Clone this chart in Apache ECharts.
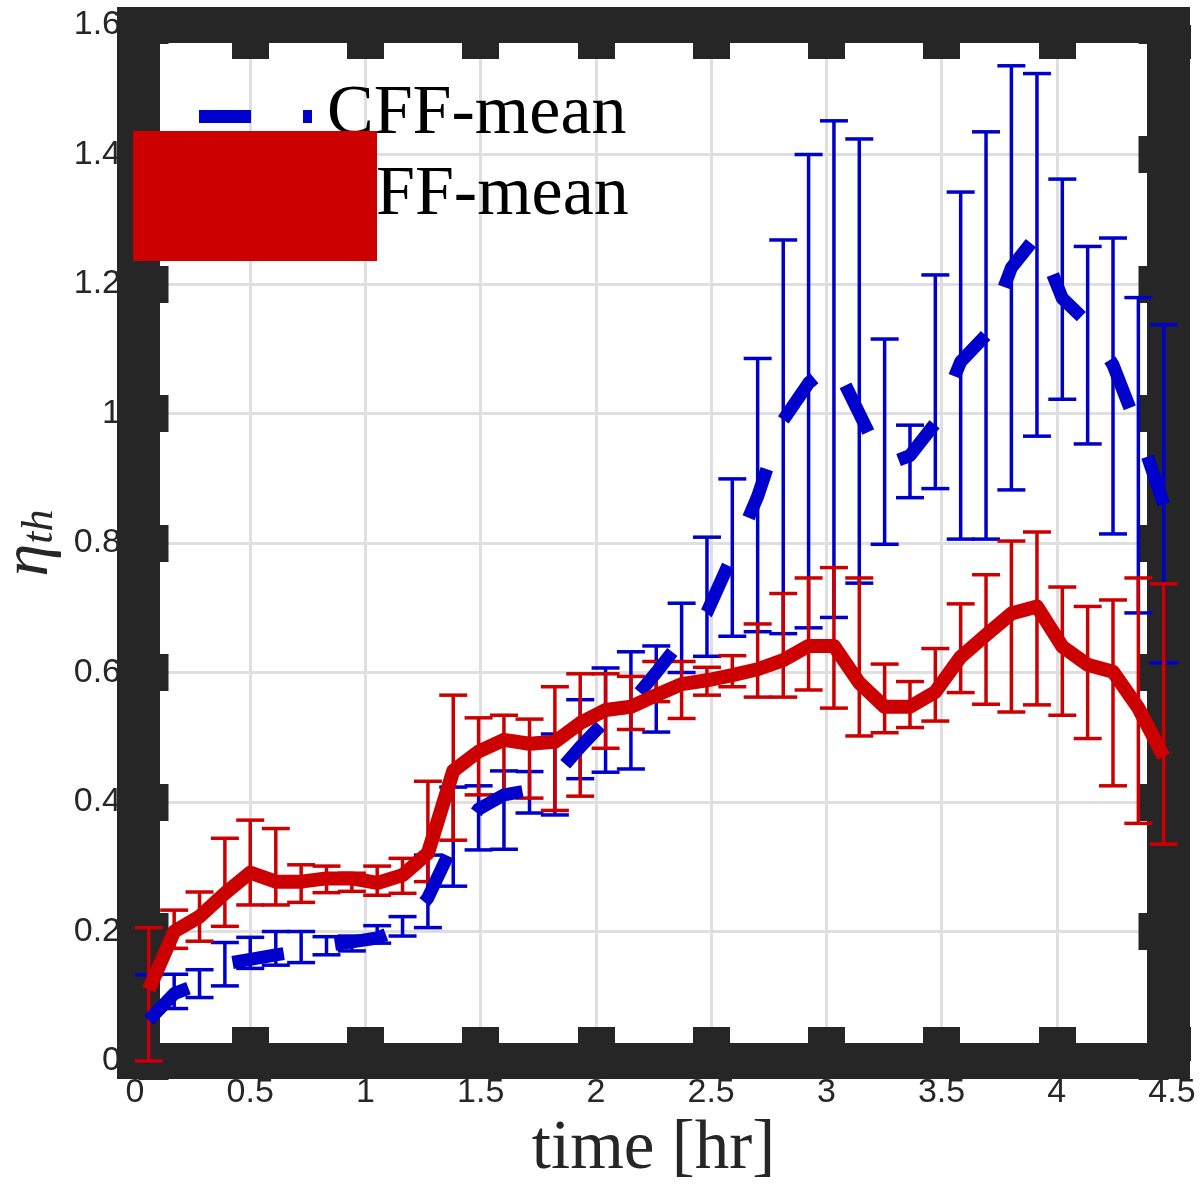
<!DOCTYPE html>
<html>
<head>
<meta charset="utf-8">
<script src="https://cdn.jsdelivr.net/npm/echarts@6/dist/echarts.min.js"></script>
<style>
  html, body { margin: 0; padding: 0; background: #ffffff; }
  #chart { width: 1202px; height: 1185px; }
</style>
</head>
<body>
<div id="chart"></div>
<script>
// Sample times [hr]
const times = [0.060, 0.170, 0.280, 0.390, 0.500, 0.611, 0.721, 0.831, 0.941, 1.051,
               1.161, 1.271, 1.381, 1.491, 1.601, 1.712, 1.822, 1.932, 2.042, 2.152,
               2.262, 2.372, 2.482, 2.592, 2.702, 2.813, 2.923, 3.033, 3.143, 3.253,
               3.363, 3.473, 3.583, 3.693, 3.803, 3.914, 4.024, 4.134, 4.244, 4.354, 4.464];

// CFF: mean efficiency with lower / upper error limits
const cffMean = [0.063, 0.104, 0.119, 0.150, 0.157, 0.164, 0.170, 0.178, 0.184, 0.190,
                 0.205, 0.252, 0.335, 0.389, 0.411, 0.418, 0.440, 0.485, 0.526, 0.553,
                 0.600, 0.650, 0.693, 0.780, 0.872, 0.990, 1.047, 1.080, 1.000, 0.920,
                 0.935, 0.985, 1.080, 1.121, 1.225, 1.275, 1.178, 1.140, 1.075, 0.975, 0.860];
const cffLow  = [0.000, 0.081, 0.098, 0.116, 0.143, 0.148, 0.152, 0.164, 0.170, 0.182,
                 0.193, 0.206, 0.270, 0.326, 0.327, 0.383, 0.380, 0.436, 0.446, 0.451,
                 0.508, 0.600, 0.625, 0.656, 0.663, 0.660, 0.669, 0.685, 0.738, 0.798,
                 0.870, 0.884, 0.806, 0.806, 0.882, 0.965, 1.022, 0.953, 0.814, 0.692, 0.615];
const cffHigh = [0.133, 0.134, 0.141, 0.183, 0.191, 0.200, 0.200, 0.192, 0.193, 0.209,
                 0.223, 0.318, 0.423, 0.425, 0.448, 0.447, 0.505, 0.558, 0.607, 0.632,
                 0.641, 0.707, 0.809, 0.899, 1.085, 1.268, 1.400, 1.452, 1.424, 1.115,
                 0.982, 1.214, 1.342, 1.435, 1.537, 1.525, 1.362, 1.258, 1.271, 1.179, 1.137];

// FF: mean efficiency with lower / upper error limits
const ffMean = [0.110, 0.200, 0.223, 0.259, 0.291, 0.277, 0.277, 0.282, 0.282, 0.275,
                0.287, 0.321, 0.448, 0.478, 0.496, 0.490, 0.493, 0.522, 0.542, 0.547,
                0.565, 0.582, 0.588, 0.596, 0.605, 0.619, 0.641, 0.641, 0.584, 0.547,
                0.547, 0.570, 0.624, 0.658, 0.691, 0.702, 0.640, 0.612, 0.601, 0.545, 0.470];
const ffLow  = [0.000, 0.174, 0.185, 0.208, 0.241, 0.241, 0.245, 0.260, 0.262, 0.256,
                0.259, 0.277, 0.341, 0.411, 0.411, 0.406, 0.387, 0.409, 0.483, 0.512,
                0.555, 0.529, 0.565, 0.578, 0.562, 0.562, 0.573, 0.545, 0.502, 0.507,
                0.515, 0.525, 0.569, 0.551, 0.539, 0.550, 0.534, 0.498, 0.425, 0.367, 0.335];
const ffHigh = [0.206, 0.233, 0.261, 0.344, 0.372, 0.359, 0.303, 0.301, 0.290, 0.301,
                0.313, 0.432, 0.565, 0.530, 0.534, 0.528, 0.578, 0.598, 0.598, 0.594,
                0.617, 0.617, 0.608, 0.626, 0.675, 0.722, 0.746, 0.762, 0.746, 0.613,
                0.586, 0.637, 0.706, 0.751, 0.803, 0.817, 0.732, 0.702, 0.712, 0.746, 0.737];

// Tick labels
const xTickLabels = ['0', '0.5', '1', '1.5', '2', '2.5', '3', '3.5', '4', '4.5'];
const yTickLabels = ['0', '0.2', '0.4', '0.6', '0.8', '1', '1.2', '1.4', '1.6'];

const BLUE = '#0000cc';
const RED = '#cc0000';
const FRAME = '#262626';
const GRIDC = '#dfdfdf';

const chart = echarts.init(document.getElementById('chart'), null, { renderer: 'canvas' });

function errorBarRenderer(color) {
  return function (params, api) {
    const x = api.value(0);
    const lo = api.coord([x, api.value(1)]);
    const hi = api.coord([x, api.value(2)]);
    const hw = 14;
    const style = { stroke: color, lineWidth: 3.5, fill: null };
    return {
      type: 'group',
      children: [
        { type: 'line', shape: { x1: lo[0], y1: lo[1], x2: hi[0], y2: hi[1] }, style: style },
        { type: 'line', shape: { x1: lo[0] - hw, y1: lo[1], x2: lo[0] + hw, y2: lo[1] }, style: style },
        { type: 'line', shape: { x1: hi[0] - hw, y1: hi[1], x2: hi[0] + hw, y2: hi[1] }, style: style }
      ]
    };
  };
}

// Frame axes: thick box lines with inward ticks drawn above the labelled axes
function frameX(position) {
  return {
    type: 'value', min: 0, max: 4.5, interval: 0.5, position: position, z: 1,
    axisLine: { show: true, onZero: false, lineStyle: { color: FRAME, width: 36, cap: 'square' } },
    axisTick: { show: true, inside: true, length: 34, lineStyle: { color: FRAME, width: 37 } },
    axisLabel: { show: false }, splitLine: { show: false }
  };
}
function frameY(position) {
  return {
    type: 'value', min: 0, max: 1.6, interval: 0.2, position: position, z: 1, offset: -3.5,
    axisLine: { show: true, onZero: false, lineStyle: { color: FRAME, width: 43, cap: 'butt' } },
    axisTick: { show: true, inside: true, length: 30, lineStyle: { color: FRAME, width: 37 } },
    axisLabel: { show: false }, splitLine: { show: false }
  };
}

const option = {
  animation: false,
  backgroundColor: '#ffffff',
  grid: { left: 135, right: 30, top: 25, bottom: 124, containLabel: false, outerBoundsMode: 'none' },
  xAxis: [
    {
      type: 'value', min: 0, max: 4.5, interval: 0.5, position: 'bottom', z: 0,
      axisLine: { show: false, onZero: false },
      axisTick: { show: false },
      splitLine: { show: true, lineStyle: { color: GRIDC, width: 3 } },
      axisLabel: {
        margin: 15, fontSize: 34, fontFamily: 'Liberation Sans', color: FRAME,
        formatter: function (v) { return xTickLabels[Math.round(v / 0.5)]; }
      },
      name: 'time [hr]', nameLocation: 'middle', nameGap: 54,
      nameTextStyle: { fontFamily: 'Liberation Serif', fontSize: 69, color: FRAME }
    },
    frameX('bottom'),
    frameX('top')
  ],
  yAxis: [
    {
      type: 'value', min: 0, max: 1.6, interval: 0.2, position: 'left', z: 0,
      axisLine: { show: false, onZero: false },
      axisTick: { show: false },
      splitLine: { show: true, lineStyle: { color: GRIDC, width: 3 } },
      axisLabel: {
        margin: 14, fontSize: 34, fontFamily: 'Liberation Sans', color: FRAME,
        formatter: function (v) { return yTickLabels[Math.round(v / 0.2)]; }
      },
      name: '{e|η}{s|th}', nameLocation: 'middle', nameGap: 68, nameRotate: 90,
      nameTextStyle: {
        rich: {
          e: { fontFamily: 'Liberation Serif', fontStyle: 'italic', fontSize: 66, color: FRAME },
          s: { fontFamily: 'Liberation Serif', fontStyle: 'italic', fontSize: 44, color: FRAME, verticalAlign: 'bottom' }
        }
      }
    },
    frameY('left'),
    frameY('right')
  ],
  series: [
    {
      name: 'CFF-err', type: 'custom', xAxisIndex: 0, yAxisIndex: 0,
      renderItem: errorBarRenderer(BLUE),
      encode: { x: 0, y: [1, 2] },
      data: times.map(function (t, i) { return [t, cffLow[i], cffHigh[i]]; })
    },
    {
      name: 'CFF-mean', type: 'line', xAxisIndex: 0, yAxisIndex: 0,
      symbol: 'none', showSymbol: false,
      lineStyle: { color: BLUE, width: 13, type: [52, 52], cap: 'butt', join: 'round' },
      data: times.map(function (t, i) { return [t, cffMean[i]]; })
    },
    {
      name: 'FF-err', type: 'custom', xAxisIndex: 0, yAxisIndex: 0,
      renderItem: errorBarRenderer(RED),
      encode: { x: 0, y: [1, 2] },
      data: times.map(function (t, i) { return [t, ffLow[i], ffHigh[i]]; })
    },
    {
      name: 'FF-mean', type: 'line', xAxisIndex: 0, yAxisIndex: 0,
      symbol: 'none', showSymbol: false,
      lineStyle: { color: RED, width: 14, cap: 'butt', join: 'round' },
      data: times.map(function (t, i) { return [t, ffMean[i]]; })
    }
  ],
  graphic: [
    {
      type: 'line', z: 100,
      shape: { x1: 199, y1: 116.5, x2: 312, y2: 116.5 },
      style: { stroke: BLUE, lineWidth: 13, lineDash: [52, 52] }
    },
    {
      type: 'text', z: 100, x: 327, y: 115,
      style: { text: 'CFF-mean', font: '70px "Liberation Serif"', fill: '#000000',
               verticalAlign: 'middle', textVerticalAlign: 'middle' }
    },
    {
      type: 'text', z: 100, x: 376, y: 196,
      style: { text: 'FF-mean', font: '70px "Liberation Serif"', fill: '#000000',
               verticalAlign: 'middle', textVerticalAlign: 'middle' }
    },
    {
      type: 'rect', z: 101,
      shape: { x: 133, y: 131, width: 244, height: 130 },
      style: { fill: RED }
    }
  ]
};

chart.setOption(option);
</script>
</body>
</html>
